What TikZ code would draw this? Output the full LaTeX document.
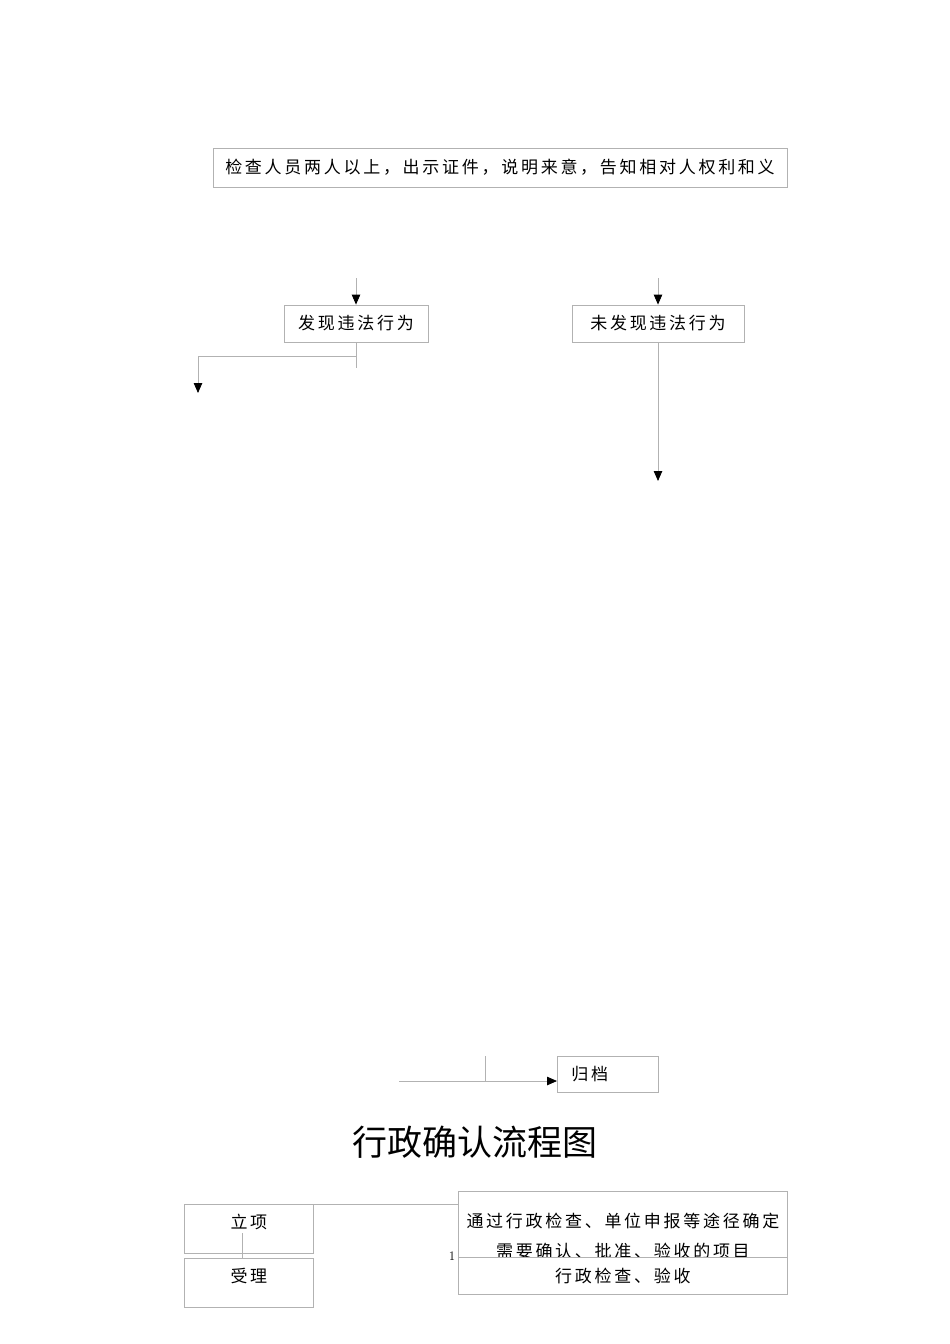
\documentclass[tikz,border=0pt]{standalone}
\usepackage{fontspec}
\usetikzlibrary{arrows.meta}
\newfontfamily\cjk[LetterSpace=16]{Noto Sans CJK SC}
\newfontfamily\cjktitle{Noto Sans CJK SC}
\definecolor{boxgray}{RGB}{178,178,178}
\begin{document}
\begin{tikzpicture}[x=1pt, y=-1pt,
    box/.style={draw=boxgray, line width=0.8pt, inner sep=0pt, minimum height=37pt, font=\cjk\fontsize{17}{20}\selectfont},
    link/.style={draw=boxgray, line width=0.8pt},
    arrow/.style={link, -{Triangle[length=10pt, width=8.5pt, black]}}]
    \useasboundingbox (0, 0) rectangle (950, 1344);

    \node[box, minimum width=574pt, minimum height=39pt] (duty) at (500, 167.5) {检查人员两人以上，出示证件，说明来意，告知相对人权利和义};
    \coordinate (duty-l) at (356, 278);
    \coordinate (duty-r) at (658, 278);

    \node[box, minimum width=144pt] (found) at (356, 323.5) {发现违法行为};
    \node[box, minimum width=172pt] (notfound) at (658, 323.5) {未发现违法行为};
    \draw[arrow] (duty-l) -- (found.north);
    \draw[arrow] (duty-r) -- (notfound.north);

    \coordinate (found-stub) at (356, 368);
    \coordinate (found-turn) at (356, 356);
    \coordinate (found-end) at (198, 393);
    \draw[link] (found.south) -- (found-stub);
    \draw[arrow] (found-turn) -| (found-end);
    \coordinate (notfound-end) at (658, 481);
    \draw[arrow] (notfound.south) -- (notfound-end);

    \node[box, anchor=north west, minimum width=101pt, minimum height=36pt, inner xsep=14pt, text width=73pt, align=left] (archive) at (557, 1056) {归档};
    \coordinate (archive-from) at (399, 1081);
    \coordinate (archive-stub) at (485, 1056);
    \draw[arrow] (archive-from) -- (archive-from -| archive.west);
    \draw[link] (archive-stub) -- (archive-stub |- archive-from);

    \node[font=\cjktitle\fontsize{35}{40}\selectfont] (title) at (475, 1142) {行政确认流程图};

    \node[box, anchor=north west, minimum width=129pt, minimum height=49pt, text height=12pt, text depth=12pt] (lixiang) at (184, 1204) {立项};
    \node[box, anchor=north west, minimum width=129pt, minimum height=49pt, text height=12pt, text depth=12pt] (shouli) at (184, 1258) {受理};
    \coordinate (lixiang-stub) at (242, 1233);
    \draw[link] (lixiang-stub) -- (lixiang-stub |- shouli.north);

    \node[box, anchor=north west, minimum width=329pt, minimum height=89pt, align=center, font=\cjk\fontsize{17}{30}\selectfont] (source) at (458, 1191) {通过行政检查、单位申报等途径确定\\需要确认、批准、验收的项目};
    \draw[link] (lixiang.north east) -- (lixiang.north east -| source.west);
    \node[box, anchor=north west, fill=white, minimum width=329pt, minimum height=37pt] (check) at (458, 1257) {行政检查、验收};
    \node[font=\rmfamily\fontsize{13}{13}\selectfont] (pageno) at (452, 1256) {1};
  \end{tikzpicture}
\end{document}
